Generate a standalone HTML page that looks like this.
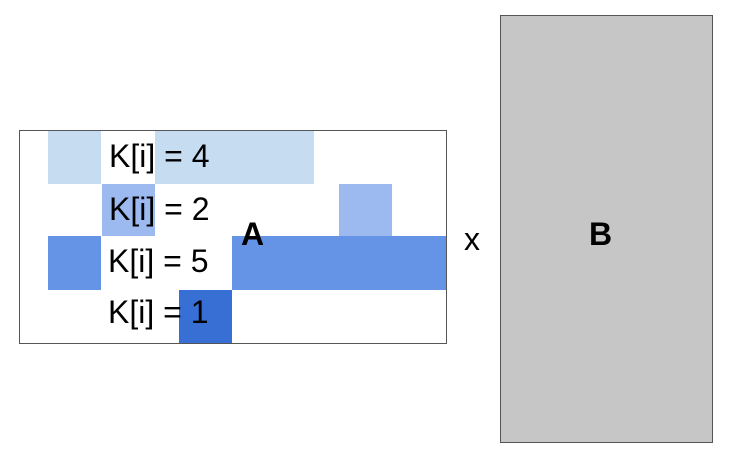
<!DOCTYPE html>
<html><head><style>
body{margin:0;background:#fff;width:733px;height:456px;position:relative;overflow:hidden;font-family:"Liberation Sans",Arial,sans-serif}
.c{position:absolute}
.t{position:absolute;font-size:32px;color:#000;line-height:1;white-space:nowrap}
</style></head><body>
<div class="c" style="left:19px;top:130px;width:426px;height:212px;border:1px solid #555;box-sizing:content-box"></div>
<div class="c" style="left:48px;top:131px;width:53px;height:53px;background:#c6dcf0"></div>
<div class="c" style="left:155px;top:131px;width:159px;height:53px;background:#c6dcf0"></div>
<div class="c" style="left:102px;top:184px;width:53px;height:52px;background:#9cbaf0"></div>
<div class="c" style="left:339px;top:184px;width:53px;height:52px;background:#9cbaf0"></div>
<div class="c" style="left:48px;top:236px;width:53px;height:54px;background:#6593e6"></div>
<div class="c" style="left:232px;top:236px;width:214px;height:54px;background:#6593e6"></div>
<div class="c" style="left:179px;top:290px;width:53px;height:53px;background:#376fd4"></div>
<div class="t" style="left:109px;top:140px">K[i] = 4</div>
<div class="t" style="left:109px;top:193px">K[i] = 2</div>
<div class="t" style="left:108px;top:245px">K[i] = 5</div>
<div class="t" style="left:108px;top:296px">K[i] = 1</div>
<div class="t" style="left:241px;top:218px;font-weight:bold">A</div>
<div class="t" style="left:464px;top:223px">x</div>
<div class="c" style="left:500px;top:15px;width:211px;height:426px;background:#c6c6c6;border:1px solid #555"></div>
<div class="t" style="left:589px;top:218px;font-weight:bold">B</div>
</body></html>
